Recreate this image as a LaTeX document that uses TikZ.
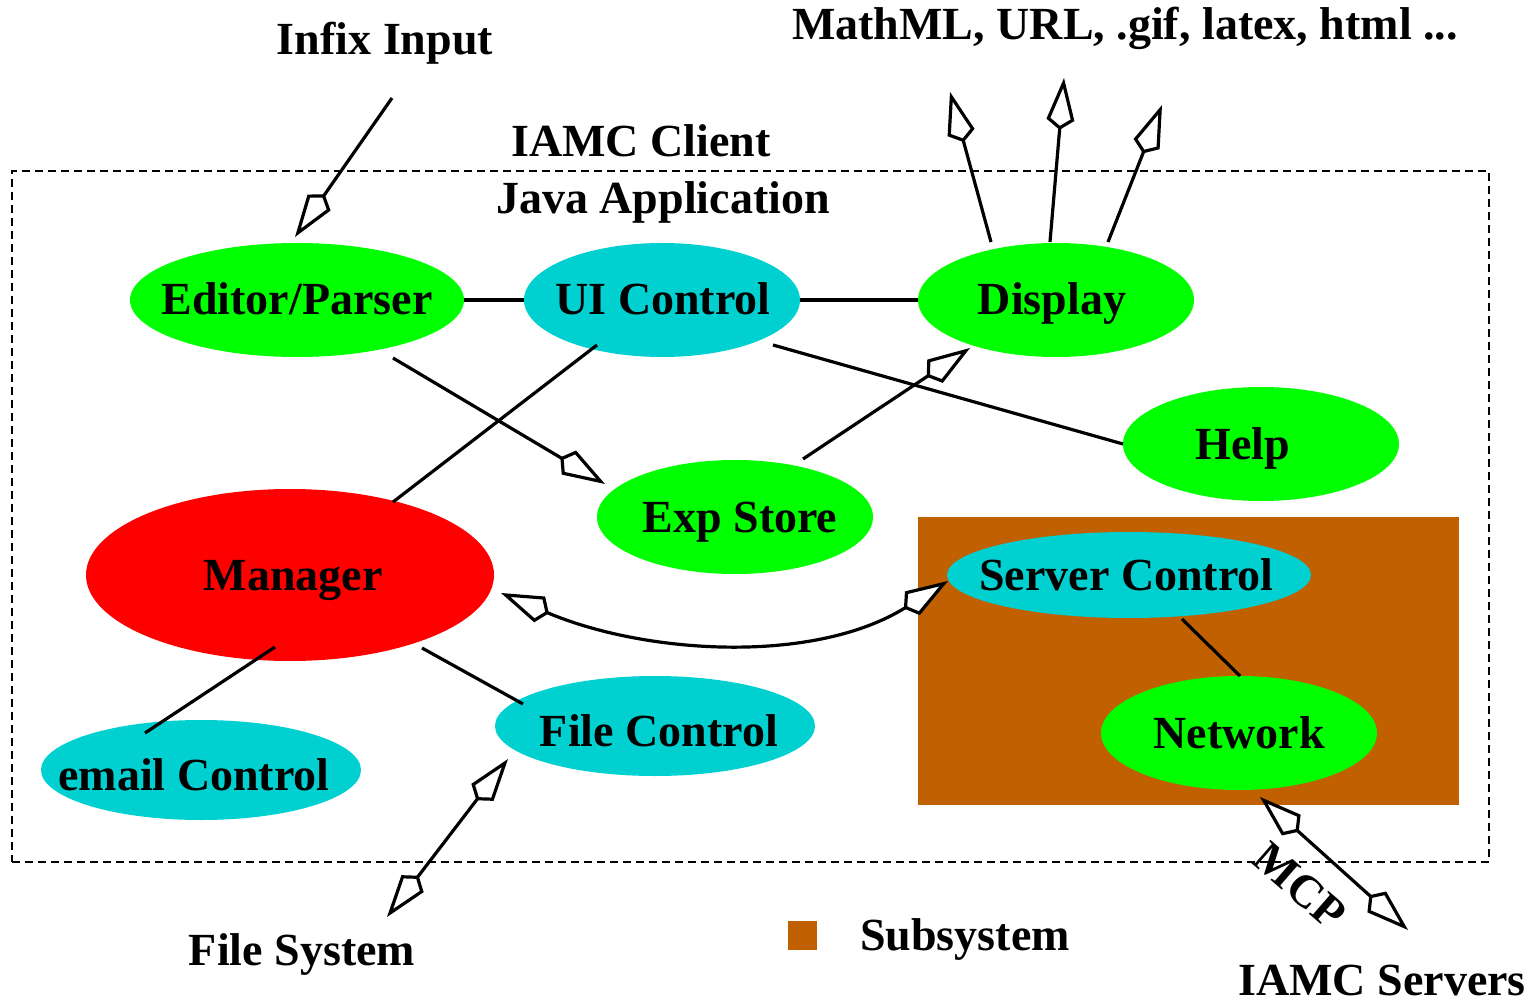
\documentclass[tikz,border=0pt]{standalone}
\usepackage{fontspec}
\setmainfont{Liberation Serif}
\usetikzlibrary{shapes.geometric,arrows.meta,calc}
\definecolor{fgreen}{RGB}{0,255,0}
\definecolor{fcyan}{RGB}{0,208,208}
\definecolor{fbrown}{RGB}{192,96,0}
\definecolor{fred}{RGB}{255,0,0}
\newcommand{\ztx}[3]{\makebox[0pt]{\hspace*{#1}\raisebox{#2}{#3}}}
\begin{document}
\begin{tikzpicture}[x=1pt,y=1pt,
  lbl/.style={font=\fontsize{46}{50}\selectfont\bfseries, inner sep=0pt},
  ell/.style={ellipse, lbl, text height=30pt, text depth=0pt},
  conn/.style={line width=3.2pt},
  >={Kite[length=52pt,width=28pt,inset=10pt,fill=white]}
]
\useasboundingbox (0,0) rectangle (1532,-1000);
% frames
\node[draw, dash pattern=on 8pt off 5pt, line width=2.8pt, minimum width=1477pt, minimum height=691pt, inner sep=0pt] (client) at (750.5,-516.5) {};
\node[fill=fbrown, minimum width=541pt, minimum height=288pt, inner sep=0pt] (subsys) at (1188.5,-661) {};
% titles
\node[lbl, anchor=base] (infix) at (385,-55) {Infix Input};
\node[lbl, anchor=base] (outs) at (1125,-40) {MathML, URL, .gif, latex, html ...};
\node[lbl, anchor=base] (iamcc) at (641,-157) {IAMC Client};
\node[lbl, anchor=base] (java) at (663,-214) {Java Application};
\node[lbl, anchor=base] (fsys) at (302,-965) {File System};
\node[lbl, anchor=base east] (servers) at (1526,-995) {IAMC Servers};
\node[lbl, anchor=base west] (subtxt) at (860,-950) {Subsystem};
\node[fill=fbrown, minimum size=29pt, inner sep=0pt] (legend) at (802.5,-935.5) {};
\node[lbl, text height=30pt, text depth=0pt, rotate=-41] (mcp) at (1300,-886) {MCP};
% ellipses
\node[ell, fill=fgreen, minimum width=334pt, minimum height=114pt] (ep) at (297,-300) {\ztx{0pt}{0pt}{Editor/Parser}};
\node[ell, fill=fcyan, minimum width=276pt, minimum height=114pt] (ui) at (662,-300) {\ztx{2pt}{0pt}{UI Control}};
\node[ell, fill=fgreen, minimum width=276pt, minimum height=114pt] (dp) at (1056,-300) {\ztx{-8pt}{0pt}{Display}};
\node[ell, fill=fgreen, minimum width=276pt, minimum height=114pt] (hp) at (1261,-444) {\ztx{-36pt}{0pt}{Help}};
\node[ell, fill=fgreen, minimum width=276pt, minimum height=114pt] (es) at (735,-517) {\ztx{10pt}{0pt}{Exp Store}};
\node[ell, fill=fred, minimum width=408pt, minimum height=172pt] (mg) at (290,-575) {\ztx{6pt}{0pt}{Manager}};
\node[ell, fill=fcyan, minimum width=364pt, minimum height=86pt] (sc) at (1129,-575) {\ztx{-5pt}{0pt}{Server Control}};
\node[ell, fill=fgreen, minimum width=276pt, minimum height=114pt] (nw) at (1239,-733) {\ztx{0pt}{0pt}{Network}};
\node[ell, fill=fcyan, minimum width=320pt, minimum height=100pt] (fc) at (655,-726) {\ztx{8pt}{-5pt}{File Control}};
\node[ell, fill=fcyan, minimum width=320pt, minimum height=100pt] (em) at (201,-770) {\ztx{-14pt}{-5pt}{email Control}};
% free ends
\coordinate (inp) at (392,-98);
\coordinate (o1) at (950,-92);
\coordinate (o2) at (1064,-78);
\coordinate (o3) at (1162,-105);
\coordinate (srv) at (1408,-930);
\coordinate (fs) at (387,-917);
% connectors
\draw[conn] (ep.east) -- (ui.west);
\draw[conn] (ui.east) -- (dp.west);
\draw[conn,->] ($(ep)+(96,-58)$) -- ($(es)+(-130,33)$);
\draw[conn] ($(ui)+(-65,-45)$) -- ($(mg)+(103,73)$);
\draw[conn] ($(ui)+(111,-45)$) -- ($(hp)+(-138,0)$);
\draw[conn,->] ($(es)+(68,58)$) -- ($(dp)+(-86,-48)$);
\draw[conn] ($(mg)+(-15,-72)$) -- ($(em)+(-56,37)$);
\draw[conn] ($(mg)+(132,-73)$) -- ($(fc)+(-132,22)$);
\draw[conn,<->] ($(mg)+(211,-18)$) to[out=-23,in=212,looseness=0.9] ($(sc)+(-181,-6)$);
\draw[conn] ($(sc)+(53,-44)$) -- ($(nw)+(1,57)$);
\draw[conn,<->] ($(nw)+(21,-64)$) -- (srv);
\draw[conn,<->] ($(fc)+(-147,-33)$) -- (fs);
\draw[conn,->] (inp) -- ($(ep)+(-2,63)$);
\draw[conn,->] ($(dp)+(-65,58)$) -- (o1);
\draw[conn,->] ($(dp)+(-6,58)$) -- (o2);
\draw[conn,->] ($(dp)+(52,58)$) -- (o3);
\end{tikzpicture}
\end{document}
